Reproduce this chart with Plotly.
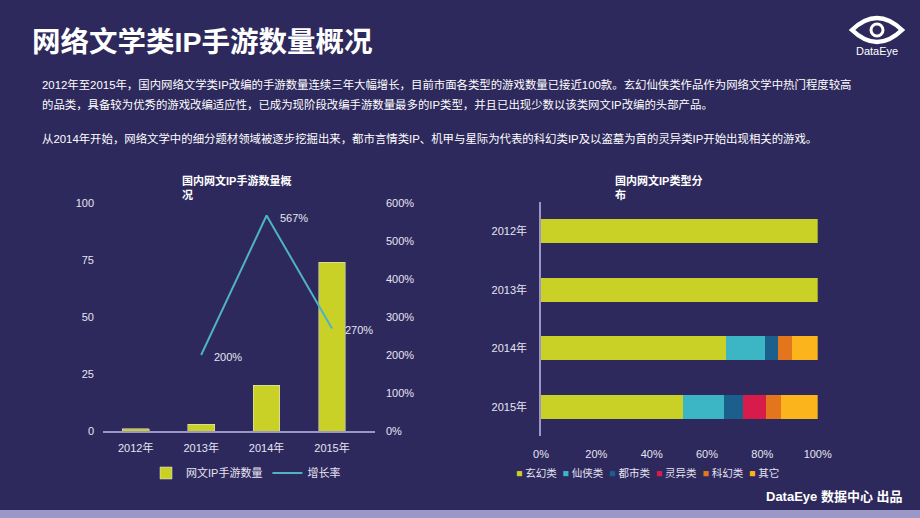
import plotly.graph_objects as go

# data
years = ["2012年", "2013年", "2014年", "2015年"]
game_counts = [1, 3, 20, 74]
growth_years = ["2013年", "2014年", "2015年"]
growth_rate = [200, 567, 270]
growth_labels = ["200%", "567%", "270%"]

left_ticks = [0, 25, 50, 75, 100]
rate_ticks = [0, 100, 200, 300, 400, 500, 600]
share_ticks = [0, 20, 40, 60, 80, 100]

genres = ["玄幻类", "仙侠类", "都市类", "灵异类", "科幻类", "其它"]
genre_share = {
    "玄幻类": [100, 100, 66.7, 51.4],
    "仙侠类": [0, 0, 14.3, 14.9],
    "都市类": [0, 0, 4.8, 6.8],
    "灵异类": [0, 0, 0, 8.1],
    "科幻类": [0, 0, 4.8, 5.4],
    "其它": [0, 0, 9.5, 13.4],
}
genre_colors = ["#c9d026", "#3cb6c4", "#1b5f8c", "#d71c4c", "#e3761c", "#fbb41b"]

W, H = 920, 518
BG = "#2e295c"
FONT = "Liberation Sans, Noto Sans CJK SC"
LABEL = "#e6e4f2"


def px(x, y):
    # pixel position -> paper coords
    return x / W, 1 - y / H


fig = go.Figure()

# left chart: bars + growth line
fig.add_trace(go.Bar(
    x=years, y=game_counts, name="网文IP手游数量",
    marker_color="#c9d026", width=0.41,
    xaxis="x", yaxis="y", legend="legend",
))
fig.add_trace(go.Scatter(
    x=growth_years, y=growth_rate, name="增长率", mode="lines",
    line=dict(color="#4eb2c8", width=2),
    xaxis="x", yaxis="y2", legend="legend",
))

# right chart: stacked horizontal bars
for g, c in zip(genres, genre_colors):
    fig.add_trace(go.Bar(
        y=years, x=genre_share[g], name=g, orientation="h",
        marker=dict(color=c, line_width=0), width=0.41,
        xaxis="x3", yaxis="y3", showlegend=False,
    ))

x0, y0 = px(103, 431)
x1, y1 = px(375, 203)
rx0, ry0 = px(541, 436.3)
rx1, ry1 = px(817.7, 201.7)

tick_font = dict(color=LABEL, size=11, family=FONT)

fig.update_layout(
    width=W, height=H,
    margin=dict(l=0, r=0, t=0, b=0, autoexpand=False),
    paper_bgcolor=BG, plot_bgcolor=BG,
    font=dict(family=FONT, color="white"),
    barmode="stack",
    xaxis=dict(domain=[x0, x1], showgrid=False, showline=True, automargin=False,
               linecolor="#9a96c8", linewidth=1.5, tickfont=tick_font,
               ticklabelstandoff=6),
    yaxis=dict(domain=[y0, y1], range=[0, 100], tickvals=left_ticks, automargin=False,
               showgrid=False, zeroline=False, tickfont=tick_font,
               ticklabelstandoff=8),
    yaxis2=dict(overlaying="y", side="right", range=[0, 600], automargin=False,
                tickvals=rate_ticks, ticktext=[f"{v}%" for v in rate_ticks],
                showgrid=False, zeroline=False, tickfont=tick_font,
                ticklabelstandoff=10, anchor="x"),
    xaxis3=dict(domain=[rx0, rx1], range=[0, 100], automargin=False,
                tickvals=share_ticks, ticktext=[f"{v}%" for v in share_ticks],
                showgrid=False, zeroline=False, tickfont=tick_font,
                ticklabelstandoff=10, anchor="y3"),
    yaxis3=dict(domain=[ry0, ry1], autorange="reversed", showgrid=False, automargin=False,
                showline=True, linecolor="#9a96c8", linewidth=1.5,
                tickfont=tick_font, ticklabelstandoff=10, anchor="x3"),
    legend=dict(orientation="h", x=px(246, 0)[0], xanchor="center",
                y=px(0, 473)[1], yanchor="middle", traceorder="normal",
                font=dict(size=11, color=LABEL), itemwidth=30,
                bgcolor="rgba(0,0,0,0)"),
    showlegend=True,
)

anns = []

# growth rate labels, to the right of each point
for yr, r, lab in zip(growth_years, growth_rate, growth_labels):
    anns.append(dict(x=yr, y=r, xref="x", yref="y2", text=lab, showarrow=False,
                     xanchor="left", yanchor="middle", xshift=11, yshift=-2,
                     font=dict(size=11, color=LABEL, family=FONT)))


def text(x, y, s, size, bold=False, anchor="left", color="white"):
    xp, yp = px(x, y)
    anns.append(dict(x=xp, y=yp, xref="paper", yref="paper", text=f"<b>{s}</b>" if bold else s,
                     showarrow=False, xanchor=anchor, yanchor="middle", align="left",
                     font=dict(size=size, color=color, family=FONT)))


text(30, 42, "网络文学类IP手游数量概况", 28.5, bold=True)
text(40, 84, "2012年至2015年，国内网络文学类IP改编的手游数量连续三年大幅增长，目前市面各类型的游戏数量已接近100款。玄幻仙侠类作品作为网络文学中热门程度较高", 11.4)
text(40, 104, "的品类，具备较为优秀的游戏改编适应性，已成为现阶段改编手游数量最多的IP类型，并且已出现少数以该类网文IP改编的头部产品。", 11.4)
text(40, 138, "从2014年开始，网络文学中的细分题材领域被逐步挖掘出来，都市言情类IP、机甲与星际为代表的科幻类IP及以盗墓为首的灵异类IP开始出现相关的游戏。", 11.4)
text(180, 188, "国内网文IP手游数量概<br>况", 11, bold=True)
text(613, 188, "国内网文IP类型分<br>布", 11, bold=True)
text(905, 496, "DataEye 数据中心 出品", 13, bold=True, anchor="right")
text(877, 51, "DataEye", 11, anchor="center")

# compact legend for the genre chart
legend2 = "&nbsp;&nbsp;".join(
    f"<span style='color:{c}'>■</span> {g}" for g, c in zip(genres, genre_colors))
text(647, 473, legend2, 10.5, anchor="center", color=LABEL)

fig.update_layout(annotations=anns)

# logo eye + bottom strip
ax, ay = px(852, 30)
bx, by = px(902, 30)
cx1, cy1 = px(877, 6)
cx2, cy2 = px(877, 54)
ix0, iy0 = px(871, 24)
ix1, iy1 = px(883, 36)
shapes = [
    dict(type="path", xref="paper", yref="paper",
         path=f"M {ax},{ay} Q {cx1},{cy1} {bx},{by} Q {cx2},{cy2} {ax},{ay} Z",
         line=dict(color="white", width=4.5), fillcolor="rgba(0,0,0,0)"),
    dict(type="circle", xref="paper", yref="paper", x0=ix0, y0=iy0, x1=ix1, y1=iy1,
         line=dict(color="white", width=3)),
    dict(type="rect", xref="paper", yref="paper", x0=0, x1=1, y0=0, y1=px(0, 510)[1],
         fillcolor="#9b97c6", line_width=0, layer="above"),
]
fig.update_layout(shapes=shapes)

fig.write_html("out.html", config={"displayModeBar": False},
               post_script="document.body.style.margin='0';"
                           "document.body.style.background='#2e295c';")
